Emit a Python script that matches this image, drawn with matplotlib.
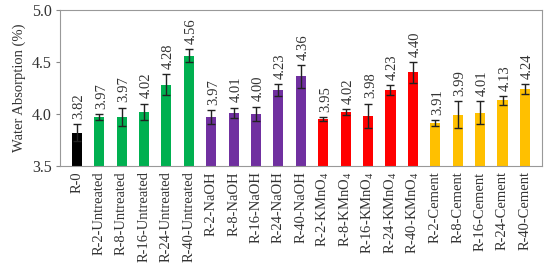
import numpy as np
import matplotlib.pyplot as plt

plt.rcParams['font.family'] = ['Liberation Serif', 'DejaVu Serif']
plt.rcParams['mathtext.fontset'] = 'custom'
plt.rcParams['mathtext.rm'] = 'Liberation Serif'
plt.rcParams['mathtext.default'] = 'regular'

labels = ['R-0',
          'R-2-Untreated', 'R-8-Untreated', 'R-16-Untreated', 'R-24-Untreated', 'R-40-Untreated',
          'R-2-NaOH', 'R-8-NaOH', 'R-16-NaOH', 'R-24-NaOH', 'R-40-NaOH',
          'R-2-KMnO$_4$', 'R-8-KMnO$_4$', 'R-16-KMnO$_4$', 'R-24-KMnO$_4$', 'R-40-KMnO$_4$',
          'R-2-Cement', 'R-8-Cement', 'R-16-Cement', 'R-24-Cement', 'R-40-Cement']
values = [3.82,
          3.97, 3.97, 4.02, 4.28, 4.56,
          3.97, 4.01, 4.00, 4.23, 4.36,
          3.95, 4.02, 3.98, 4.23, 4.40,
          3.91, 3.99, 4.01, 4.13, 4.24]
errors = [0.08,
          0.03, 0.09, 0.08, 0.10, 0.06,
          0.07, 0.05, 0.07, 0.06, 0.11,
          0.02, 0.03, 0.12, 0.05, 0.10,
          0.03, 0.13, 0.11, 0.04, 0.05]
group_colors = ['#000000'] + ['#00B050'] * 5 + ['#7030A0'] * 5 + ['#FF0000'] * 5 + ['#FFC000'] * 5

fig = plt.figure(figsize=(5.5, 2.68), dpi=100)
ax = fig.add_axes([0.109, 0.381, 0.876, 0.582])

x = np.arange(len(values))
ax.bar(x, values, width=0.45, color=group_colors, zorder=2)
ax.errorbar(x, values, yerr=errors, fmt='none', ecolor='#222222', elinewidth=1.0,
            capsize=3, capthick=1.0, zorder=3)

for xi, v, e in zip(x, values, errors):
    ax.text(xi + 0.1, v + e + 0.05, '{:.2f}'.format(v), rotation=90,
            ha='center', va='bottom', fontsize=10.5, color='#333333')

ax.set_ylim(3.5, 5.0)
ax.set_xlim(-0.75, len(values) - 0.25)
ax.set_yticks([3.5, 4.0, 4.5, 5.0])
ax.set_yticklabels(['3.5', '4.0', '4.5', '5.0'], fontsize=11.5, color='#333333')
ax.set_xticks(x)
ax.set_xticklabels(labels, rotation=90, fontsize=10.5, color='#333333')
ax.tick_params(axis='x', length=0, pad=4)
ax.tick_params(axis='y', length=3, color='#888888', pad=3)
ax.set_ylabel('Water Absorption (%)', fontsize=10.5, color='#333333')

for s in ax.spines.values():
    s.set_color('#999999')
    s.set_linewidth(0.8)

fig.savefig('out.png', dpi=100)
